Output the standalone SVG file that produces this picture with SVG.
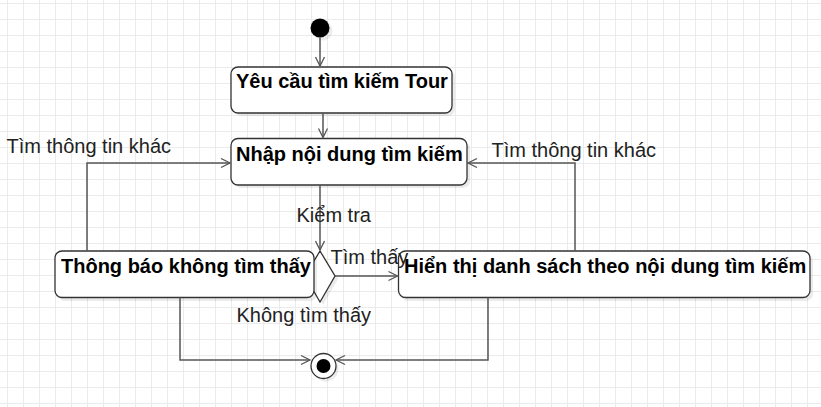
<svg xmlns="http://www.w3.org/2000/svg" width="821" height="407" viewBox="0 0 821 407">
<defs>
<pattern id="grid" x="7" y="3" width="16" height="16" patternUnits="userSpaceOnUse">
<path d="M0.5 0 V16 M0 0.5 H16" stroke="#ebebeb" stroke-width="1" fill="none"/>
</pattern>
<marker id="arr" markerWidth="12" markerHeight="12" refX="10" refY="6" orient="auto" markerUnits="userSpaceOnUse">
<path d="M1 1.5 L10 6 L1 10.5" fill="none" stroke="#555" stroke-width="1.3"/>
</marker>
<style>
.node{fill:#fff;stroke:#333;stroke-width:1.3}
.shadow{fill:#000;fill-opacity:0.08;stroke:none}
.title{font-family:"Liberation Sans",Arial,sans-serif;font-size:20px;font-weight:bold;fill:#000}
.lbl{font-family:"Liberation Sans",Arial,sans-serif;font-size:20px;fill:#222}
.edge{fill:none;stroke:#555;stroke-width:1.5;marker-end:url(#arr)}
</style>
</defs>
<rect width="821" height="407" fill="#fff"/>
<rect width="821" height="407" fill="url(#grid)"/>

<g id="start">
<circle cx="323" cy="31" r="9.5" class="shadow"/>
<circle cx="320" cy="28" r="9.5" fill="#000"/>
</g>

<g id="n1">
<rect x="234" y="70" width="221" height="46" rx="7" class="shadow"/>
<rect x="231" y="67" width="221" height="46" rx="7" class="node"/>
<text x="236" y="88" class="title">Yêu cầu tìm kiếm Tour</text>
</g>

<g id="n2">
<rect x="234" y="141" width="236" height="47" rx="7" class="shadow"/>
<rect x="231" y="138.5" width="236" height="46.5" rx="7" class="node"/>
<text x="236" y="161" class="title">Nhập nội dung tìm kiếm</text>
</g>

<g id="decision">
<path d="M323 254 L338 279 L323 305 L308 279 Z" class="shadow"/>
<path d="M320 251 L335 276 L320 302 L305 276 Z" class="node"/>
</g>

<g id="n3">
<rect x="58" y="254" width="259" height="47" rx="7" class="shadow"/>
<rect x="55" y="251" width="259" height="46.5" rx="7" class="node"/>
<text x="61" y="273" class="title">Thông báo không tìm thấy</text>
</g>

<g id="n4">
<rect x="401" y="254" width="412" height="47" rx="7" class="shadow"/>
<rect x="398.5" y="251" width="411.5" height="46.5" rx="7" class="node"/>
<text x="404" y="273" class="title">Hiển thị danh sách theo nội dung tìm kiếm</text>
</g>

<g id="end">
<circle cx="326" cy="369" r="12.5" class="shadow"/>
<circle cx="323.5" cy="366" r="12.5" fill="#fff" stroke="#333" stroke-width="1.3"/>
<circle cx="323.5" cy="366" r="7" fill="#000"/>
</g>

<g id="connectors">
<path d="M320 37.5 V66" class="edge"/>
<path d="M323 113 V137.5" class="edge"/>
<path d="M320 185 V250" class="edge"/>
<path d="M335 276 H397.5" class="edge"/>
<path d="M87 251 V163 H230" class="edge"/>
<path d="M575 251 V163 H468" class="edge"/>
<path d="M180 297.5 V360 H310" class="edge"/>
<path d="M488 297.5 V360 H336" class="edge"/>
</g>

<g id="labels">
<text x="6.5" y="152.5" class="lbl">Tìm thông tin khác</text>
<text x="491.5" y="157" class="lbl">Tìm thông tin khác</text>
<text x="296.5" y="221.5" class="lbl">Kiểm tra</text>
<text x="330.5" y="264" class="lbl">Tìm thấy</text>
<text x="236.5" y="322" class="lbl">Không tìm thấy</text>
</g>
</svg>
